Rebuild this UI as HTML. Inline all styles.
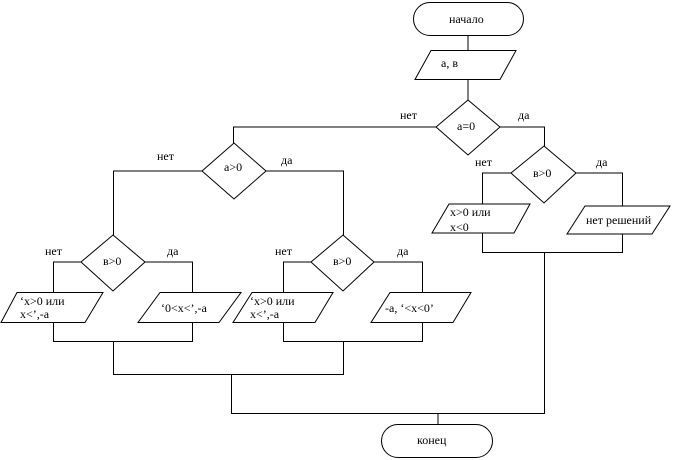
<!DOCTYPE html>
<html><head><meta charset="utf-8"><style>
html,body{margin:0;padding:0;background:#fff;}
svg{display:block}
text{font-family:"Liberation Serif",serif;font-size:12px;fill:#000}
</style></head><body>
<svg width="673" height="460" viewBox="0 0 673 460" xmlns="http://www.w3.org/2000/svg">
<g fill="none" stroke="#000" stroke-width="1">
<rect x="413.5" y="2.5" width="110" height="33" rx="16.5"/>
<line x1="468" y1="35" x2="468" y2="50"/>
<polygon points="431,50.5 516,50.5 500,79.5 415,79.5"/>
<line x1="468" y1="79" x2="468" y2="100"/>
<polygon points="468,100 500,127 468,155 436,127"/>
<polyline points="436,127 233.5,127 233.5,143"/>
<polyline points="500,127 544.5,127 544.5,146"/>
<polygon points="544,146 576,173 544,203 511,173"/>
<polyline points="511,173 482.5,173 482.5,204"/>
<polyline points="576,173 622.5,173 622.5,206"/>
<polygon points="449,204 530,204 514,233 432,233"/>
<polygon points="585,206 670,206 652,234 567,234"/>
<polyline points="482.5,233 482.5,252.5 622.5,252.5 622.5,234"/>
<polyline points="544.5,252 544.5,413.5 231.5,413.5 231.5,374"/>
<line x1="438" y1="413" x2="438" y2="424"/>
<rect x="381.5" y="424.5" width="111" height="33" rx="16.5"/>
<polygon points="234,143 266,171 234,199 202,171"/>
<polyline points="202,171 113.5,171 113.5,235"/>
<polyline points="266,171 343.5,171 343.5,235"/>
<polygon points="113,235 145,262 113,291 81,262"/>
<polygon points="343,235 374,262 343,291 311,262"/>
<polyline points="81,262 53.5,262 53.5,292"/>
<polyline points="145,262 192.5,262 192.5,292"/>
<polyline points="311,262 283.5,262 283.5,292"/>
<polyline points="374,262 422.5,262 422.5,292"/>
<polygon points="17,292.5 103,292.5 85,322.5 1,322.5"/>
<polygon points="160,292.5 241,292.5 219,322.5 138,322.5"/>
<polygon points="252,292.5 333,292.5 315,322.5 233,322.5"/>
<polygon points="390,292.5 471,292.5 453,322.5 371,322.5"/>
<polyline points="53.5,322 53.5,341.5 192.5,341.5 192.5,322"/>
<polyline points="283.5,322 283.5,341.5 422.5,341.5 422.5,322"/>
<polyline points="113.5,341 113.5,374.5 343.5,374.5 343.5,341"/>
</g>
<text x="449" y="23">начало</text>
<text x="441" y="67">а, в</text>
<text x="457" y="130">а=0</text>
<text x="400" y="119">нет</text>
<text x="518" y="119">да</text>
<text x="533" y="177">в&gt;0</text>
<text x="475" y="166">нет</text>
<text x="596" y="166">да</text>
<text x="450" y="216">х&gt;0 или</text>
<text x="450" y="231">х&lt;0</text>
<text x="586" y="224">нет решений</text>
<text x="224" y="171">а&gt;0</text>
<text x="157" y="160">нет</text>
<text x="281" y="164">да</text>
<text x="103" y="265">в&gt;0</text>
<text x="333" y="265">в&gt;0</text>
<text x="45" y="255">нет</text>
<text x="167" y="255">да</text>
<text x="275" y="255">нет</text>
<text x="397" y="255">да</text>
<text x="20" y="305">‘х&gt;0 или</text>
<text x="20" y="318">х&lt;’,-а</text>
<text x="161" y="312">‘0&lt;х&lt;’,-а</text>
<text x="250" y="305">‘х&gt;0 или</text>
<text x="250" y="318">х&lt;’,-а</text>
<text x="385" y="312">-а, ‘&lt;х&lt;0’</text>
<text x="417" y="444">конец</text>
</svg>
</body></html>
